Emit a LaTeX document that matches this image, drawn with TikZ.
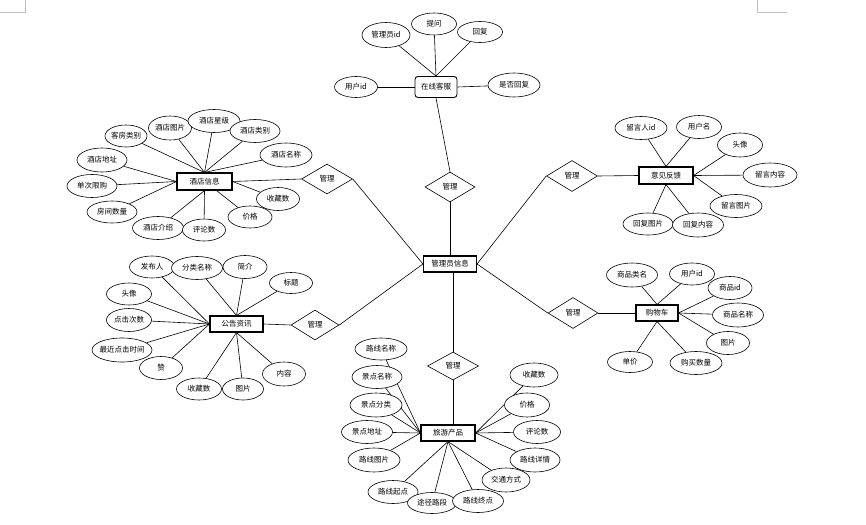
\documentclass[tikz,border=0pt]{standalone}
\usepackage{fontspec}
\newfontfamily\cjk{Noto Sans CJK SC}
\usetikzlibrary{shapes.geometric,backgrounds}
\begin{document}
\begin{tikzpicture}[x=1pt,y=-1pt,
  every node/.style={font=\cjk\fontsize{7.5}{9}\selectfont},
  ent/.style={draw, line width=1.1pt, fill=white, inner sep=0pt, minimum width=53pt, minimum height=16pt},
  attr/.style={ellipse, draw, line width=0.6pt, fill=white, inner xsep=-5pt, inner ysep=0pt},
  rel/.style={diamond, draw, line width=0.6pt, fill=white, inner sep=0pt, minimum width=50pt, minimum height=30pt},
  link/.style={line width=0.6pt},
  cornermark/.style={draw=black!25, line width=0.8pt}]
\useasboundingbox (0,0) rectangle (866,524);
\draw[cornermark] (0,12) -- (25,12) -- (25,0);
\draw[cornermark] (757,0) -- (757,12) -- (787,12);

% central
\node[ent] (adm) at (450,264) {管理员信息};

% online service
\node[ent, rounded corners=3pt, minimum width=42pt, minimum height=21pt, line width=0.9pt] (kf) at (436,87) {在线客服};
\node[attr, minimum width=48pt, minimum height=25pt] (kf1) at (386,35) {管理员id};
\node[attr, minimum width=45pt, minimum height=22pt] (kf2) at (434,24) {提问};
\node[attr, minimum width=45pt, minimum height=21pt] (kf3) at (480,32) {回复};
\node[attr, minimum width=43pt, minimum height=21pt] (kf4) at (356,87) {用户id};
\node[attr, minimum width=52pt, minimum height=24pt] (kf5) at (514,85) {是否回复};
\node[rel] (r1) at (450,187) {管理};

% hotel
\node[ent, minimum width=55pt, minimum height=17pt] (ht) at (204.5,181.5) {酒店信息};
\node[attr, minimum width=42pt, minimum height=22pt] (ht1) at (126,136) {客房类别};
\node[attr, minimum width=43pt, minimum height=24pt] (ht2) at (170,128) {酒店图片};
\node[attr, minimum width=52pt, minimum height=23pt] (ht3) at (214,121) {酒店星级};
\node[attr, minimum width=50pt, minimum height=23pt] (ht4) at (255,131) {酒店类别};
\node[attr, minimum width=52pt, minimum height=24pt] (ht5) at (286,155) {酒店名称};
\node[attr, minimum width=50pt, minimum height=24pt] (ht6) at (102,160) {酒店地址};
\node[attr, minimum width=50pt, minimum height=23pt] (ht7) at (92,186) {单次限购};
\node[attr, minimum width=50pt, minimum height=22pt] (ht8) at (112,212) {房间数量};
\node[attr, minimum width=51pt, minimum height=23pt] (ht9) at (158,228) {酒店介绍};
\node[attr, minimum width=43pt, minimum height=22pt] (ht10) at (204,230) {评论数};
\node[attr, minimum width=44pt, minimum height=22pt] (ht11) at (250,217) {价格};
\node[attr, minimum width=43pt, minimum height=23pt] (ht12) at (278,199) {收藏数};
\node[rel, minimum width=51pt] (r2) at (327,179) {管理};

% feedback
\node[ent, minimum width=54pt, minimum height=17pt] (fb) at (666,175.5) {意见反馈};
\node[attr, minimum width=52pt, minimum height=23pt] (fb1) at (641,128) {留言人id};
\node[attr, minimum width=45pt, minimum height=23pt] (fb2) at (699,127) {用户名};
\node[attr, minimum width=45pt, minimum height=24pt] (fb3) at (740,145) {头像};
\node[attr, minimum width=54pt, minimum height=24pt] (fb4) at (770,175) {留言内容};
\node[attr, minimum width=52pt, minimum height=23pt] (fb5) at (736,206) {留言图片};
\node[attr, minimum width=50pt, minimum height=22pt] (fb6) at (648,224) {回复图片};
\node[attr, minimum width=51pt, minimum height=24pt] (fb7) at (698,225) {回复内容};
\node[rel, minimum width=51pt, minimum height=31pt] (r3) at (572,176) {管理};

% announcement
\node[ent] (gg) at (236.5,324) {公告资讯};
\node[attr, minimum width=45pt, minimum height=22pt] (gg1) at (152,267) {发布人};
\node[attr, minimum width=51pt, minimum height=23pt] (gg2) at (197,268) {分类名称};
\node[attr, minimum width=44pt, minimum height=23pt] (gg3) at (245,267) {简介};
\node[attr, minimum width=43pt, minimum height=21pt] (gg4) at (291,283) {标题};
\node[attr, minimum width=45pt, minimum height=22pt] (gg5) at (129,294) {头像};
\node[attr, minimum width=45pt, minimum height=23pt] (gg6) at (129,320) {点击次数};
\node[attr, minimum width=60pt, minimum height=24pt] (gg7) at (122,350) {最近点击时间};
\node[attr, minimum width=43pt, minimum height=23pt] (gg8) at (161,368) {赞};
\node[attr, minimum width=45pt, minimum height=22pt] (gg9) at (199,389) {收藏数};
\node[attr, minimum width=41pt, minimum height=22pt] (gg10) at (243,389) {图片};
\node[attr, minimum width=43pt, minimum height=24pt] (gg11) at (284,374) {内容};
\node[rel, minimum width=48pt] (r4) at (315,325) {管理};

% shopping cart
\node[ent, minimum width=42pt] (gw) at (657,313) {购物车};
\node[attr, minimum width=51pt, minimum height=24pt] (gw1) at (632,275) {商品类名};
\node[attr, minimum width=45pt, minimum height=22pt] (gw2) at (692,274) {用户id};
\node[attr, minimum width=44pt, minimum height=23pt] (gw3) at (730,288) {商品id};
\node[attr, minimum width=51pt, minimum height=24pt] (gw4) at (738,315) {商品名称};
\node[attr, minimum width=43pt, minimum height=23pt] (gw5) at (728,343) {图片};
\node[attr, minimum width=45pt, minimum height=21pt] (gw6) at (630,362) {单价};
\node[attr, minimum width=52pt, minimum height=23pt] (gw7) at (696,363) {购买数量};
\node[rel, minimum height=31pt] (r5) at (573,313) {管理};

% tourism product
\node[ent, minimum width=54pt] (ly) at (448,433) {旅游产品};
\node[attr, minimum width=52pt, minimum height=22pt] (ly1) at (381,349) {路线名称};
\node[attr, minimum width=50pt, minimum height=23pt] (ly2) at (377,377) {景点名称};
\node[attr, minimum width=52pt, minimum height=24pt] (ly3) at (376,405) {景点分类};
\node[attr, minimum width=51pt, minimum height=23pt] (ly4) at (367,432) {景点地址};
\node[attr, minimum width=52pt, minimum height=24pt] (ly5) at (374,460) {路线图片};
\node[attr, minimum width=50pt, minimum height=23pt] (ly6) at (393,492) {路线起点};
\node[attr, minimum width=49pt, minimum height=21pt] (ly7) at (432,503) {途径路段};
\node[attr, minimum width=51pt, minimum height=23pt] (ly8) at (478,501) {路线终点};
\node[attr, minimum width=48pt, minimum height=24pt] (ly9) at (506,480) {交通方式};
\node[attr, minimum width=50pt, minimum height=24pt] (ly10) at (535,460) {路线详情};
\node[attr, minimum width=47pt, minimum height=23pt] (ly11) at (537,432) {评论数};
\node[attr, minimum width=45pt, minimum height=24pt] (ly12) at (527,405) {价格};
\node[attr, minimum width=48pt, minimum height=24pt] (ly13) at (534,375) {收藏数};
\node[rel, minimum width=51pt, minimum height=28pt] (r6) at (453,366) {管理};

\begin{scope}[on background layer]
% online service
\draw[link] (kf1) -- (kf.north);
\draw[link] (kf2) -- (kf.north);
\draw[link] (kf3) -- (kf.north);
\draw[link] (kf4) -- (kf.west);
\draw[link] (kf5) -- (kf.east);
\draw[link] (kf.south) -- (r1.north);
\draw[link] (r1.south) -- (adm.north);
% hotel
\foreach \i in {1,...,5} \draw[link] (ht\i) -- (ht.north);
\foreach \i in {6,7,8} \draw[link] (ht\i) -- (ht.west);
\draw[link] (ht9) -- (ht.south);
\draw[link] (ht10) -- (ht.south);
\draw[link] (ht11) -- ([xshift=12pt]ht.south);
\draw[link] (ht12) -- (ht.east);
\draw[link] (ht.east) -- (r2.west);
\draw[link] (r2.east) -- (adm.west);
% feedback
\draw[link] (fb1) -- (fb.north);
\draw[link] (fb2) -- (fb.north);
\foreach \i in {3,4,5} \draw[link] (fb\i) -- (fb.east);
\draw[link] (fb6) -- (fb.south);
\draw[link] (fb7) -- (fb.south);
\draw[link] (r3.east) -- (fb.west);
\draw[link] (adm.east) -- (r3.west);
% announcement
\draw[link] (gg1) -- (gg.west);
\foreach \i in {2,3,4} \draw[link] (gg\i) -- (gg.north);
\foreach \i in {5,6,7,8} \draw[link] (gg\i) -- (gg.west);
\foreach \i in {9,10,11} \draw[link] (gg\i) -- (gg.south);
\draw[link] (r4.west) -- (gg.east);
\draw[link] (r4.east) -- (adm.west);
% shopping cart
\draw[link] (gw1) -- (gw.north);
\draw[link] (gw2) -- (gw.north);
\foreach \i in {3,4,5} \draw[link] (gw\i) -- (gw.east);
\draw[link] (gw6) -- (gw.south);
\draw[link] (gw7) -- (gw.south);
\draw[link] (r5.east) -- (gw.west);
\draw[link] (adm.east) -- (r5.west);
% tourism
\foreach \i in {1,...,5} \draw[link] (ly\i) -- (ly.west);
\foreach \i in {6,...,9} \draw[link] (ly\i) -- (ly.south);
\foreach \i in {10,...,13} \draw[link] (ly\i) -- (ly.east);
\draw[link] (r6.south) -- (r6.south |- ly.north);
\draw[link] (r6.north) -- (r6.north |- adm.south);
\end{scope}
\end{tikzpicture}
\end{document}
